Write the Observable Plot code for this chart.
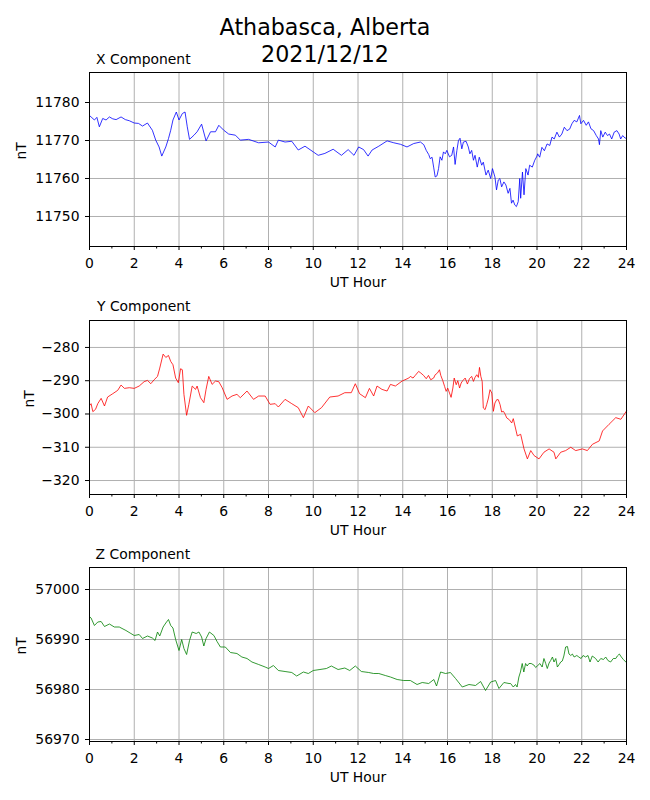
<!DOCTYPE html>
<html><head><meta charset="utf-8">
<script src="https://cdn.jsdelivr.net/npm/d3@7"></script>
<script src="https://cdn.jsdelivr.net/npm/@observablehq/plot@0.6"></script>
<style>
body{margin:0;background:#fff;}
#fig{position:relative;width:650px;height:800px;font-family:"DejaVu Sans";background:#fff;overflow:hidden;}
#title{position:absolute;top:14px;left:0;width:650px;text-align:center;font-size:22.2px;line-height:26.7px;color:#000;}
.panel{position:absolute;left:0;}
</style></head><body>
<div id="fig"><div id="title">Athabasca, Alberta<br>2021/12/12</div></div>
<script>
// [UT hour, nT] pairs
const xSeries = [[0.00,11776.6],[0.07,11776.2],[0.22,11775.4],[0.33,11776.1],[0.44,11773.6],[0.59,11775.8],[0.74,11775.4],[0.89,11776.2],[1.04,11775.7],[1.19,11775.5],[1.41,11776.2],[1.60,11775.5],[1.78,11775.2],[2.00,11774.6],[2.19,11774.5],[2.37,11773.8],[2.59,11774.6],[2.81,11772.7],[2.96,11770.1],[3.11,11768.3],[3.23,11765.9],[3.41,11768.3],[3.53,11770.5],[3.63,11772.7],[3.73,11775.4],[3.88,11777.5],[4.00,11775.4],[4.15,11777.1],[4.27,11777.5],[4.37,11773.6],[4.47,11770.3],[4.67,11771.4],[4.81,11772.3],[5.01,11774.3],[5.21,11769.9],[5.41,11772.3],[5.63,11772.3],[5.78,11774.0],[6.00,11772.7],[6.22,11771.7],[6.52,11771.4],[6.74,11770.1],[7.11,11770.3],[7.56,11769.4],[8.00,11769.6],[8.30,11768.3],[8.44,11770.1],[8.74,11769.6],[9.04,11769.8],[9.33,11767.5],[9.63,11768.5],[10.00,11767.0],[10.22,11766.1],[10.52,11766.6],[10.89,11767.7],[11.26,11766.1],[11.56,11767.6],[11.82,11766.1],[12.03,11768.3],[12.25,11767.6],[12.45,11765.9],[12.63,11767.5],[12.93,11768.5],[13.30,11769.9],[13.60,11769.4],[13.90,11769.0],[14.19,11768.3],[14.49,11769.2],
[14.79,11769.6],[14.94,11768.9],[15.05,11767.4],[15.16,11766.3],[15.23,11765.2],[15.31,11765.6],[15.38,11763.0],[15.45,11760.4],[15.53,11760.7],[15.60,11762.6],[15.67,11765.7],[15.75,11764.8],[15.82,11767.0],[15.90,11766.5],[15.97,11767.4],[16.09,11765.7],[16.19,11766.1],[16.27,11768.3],[16.34,11763.7],[16.42,11767.4],[16.49,11770.0],[16.56,11770.6],[16.64,11767.8],[16.71,11769.6],[16.83,11769.8],[16.93,11768.3],[17.00,11766.5],[17.08,11767.4],[17.16,11764.8],[17.23,11766.1],[17.33,11763.0],[17.42,11765.6],[17.53,11763.5],[17.60,11764.3],[17.72,11760.9],[17.82,11762.2],[17.93,11760.0],[18.01,11762.6],[18.12,11760.4],[18.19,11757.0],[18.27,11759.6],[18.34,11760.0],[18.42,11757.8],[18.52,11759.1],[18.61,11758.3],[18.71,11756.1],[18.79,11757.4],[18.86,11753.5],[18.93,11754.3],[19.01,11753.0],[19.08,11752.6],[19.16,11753.9],[19.23,11760.0],[19.27,11754.8],[19.35,11761.7],[19.42,11755.7],[19.50,11762.6],[19.60,11760.9],[19.67,11763.5],[19.79,11763.0],[19.90,11764.8],[20.00,11765.9],[20.03,11766.5],[20.12,11765.6],[20.22,11768.2],[20.33,11767.3],[20.45,11769.1],[20.57,11768.7],[20.67,11770.9],[20.77,11770.4],[20.89,11772.2],[21.00,11770.9],[21.11,11771.7],[21.22,11773.5],[21.34,11772.6],[21.46,11773.0],[21.56,11774.4],[21.66,11775.3],[21.78,11774.9],[21.90,11776.6],[21.96,11774.4],[22.08,11775.3],[22.20,11774.0],[22.30,11774.9],[22.41,11773.1],[22.53,11772.6],[22.65,11771.3],[22.75,11770.4],[22.79,11768.9],[22.85,11772.6],[22.94,11770.9],[23.05,11772.2],[23.15,11771.3],[23.24,11771.7],[23.34,11770.4],[23.45,11772.2],[23.57,11772.6],[23.67,11771.7],[23.74,11770.4],[23.83,11771.3],[23.94,11770.6],[24.00,11770.8]];

const ySeries = [[0.00,-297.5],[0.07,-296.9],[0.15,-299.3],[0.27,-298.6],[0.37,-296.9],[0.52,-295.3],[0.67,-297.6],[0.81,-294.9],[1.04,-293.9],[1.26,-292.9],[1.41,-291.3],[1.56,-292.3],[1.78,-292.1],[2.00,-292.3],[2.22,-291.6],[2.44,-290.3],[2.59,-289.9],[2.74,-290.9],[2.89,-289.7],[3.04,-288.7],[3.14,-286.2],[3.29,-282.0],[3.41,-283.0],[3.53,-282.4],[3.63,-284.2],[3.73,-285.2],[3.85,-289.2],[3.97,-290.6],[4.07,-286.4],[4.15,-286.7],[4.22,-294.1],[4.34,-300.4],[4.44,-297.1],[4.59,-291.6],[4.74,-292.6],[4.81,-291.6],[4.96,-295.1],[5.11,-296.6],[5.21,-292.6],[5.33,-288.7],[5.48,-291.1],[5.63,-290.1],[5.78,-290.3],[5.93,-292.1],[6.15,-295.6],[6.37,-294.6],[6.59,-294.1],[6.74,-295.1],[7.04,-293.1],[7.33,-295.6],[7.56,-294.6],[7.85,-294.6],[8.07,-297.1],[8.30,-296.9],[8.44,-297.9],[8.74,-295.6],[9.04,-296.9],[9.33,-298.1],[9.56,-301.1],[9.78,-297.6],[10.07,-299.6],[10.37,-298.1],[10.74,-294.9],[11.11,-294.6],[11.41,-293.6],[11.70,-293.6],[11.88,-290.9],[12.07,-293.9],[12.33,-295.1],[12.51,-292.3],[12.70,-294.6],[12.85,-291.6],[13.07,-292.6],[13.30,-293.1],[13.45,-291.1],[13.67,-291.6],[13.97,-290.1],[14.27,-289.2],
[14.34,-288.7],[14.46,-289.2],[14.56,-288.4],[14.71,-287.2],[14.81,-287.7],[14.93,-288.4],[15.05,-289.4],[15.15,-288.4],[15.25,-289.7],[15.38,-289.2],[15.45,-288.2],[15.55,-287.7],[15.64,-286.7],[15.70,-288.4],[15.79,-290.0],[15.87,-291.7],[15.94,-293.2],[16.01,-292.2],[16.09,-293.7],[16.16,-295.0],[16.24,-292.2],[16.30,-289.2],[16.39,-291.2],[16.46,-290.0],[16.54,-292.2],[16.61,-290.7],[16.68,-290.0],[16.79,-289.2],[16.89,-291.0],[16.98,-289.4],[17.08,-288.7],[17.16,-290.2],[17.23,-289.0],[17.31,-288.2],[17.38,-289.0],[17.43,-286.0],[17.49,-288.7],[17.55,-290.2],[17.60,-298.2],[17.68,-298.7],[17.75,-297.2],[17.83,-295.2],[17.90,-292.7],[17.98,-293.7],[18.05,-299.2],[18.12,-296.7],[18.20,-295.7],[18.27,-295.7],[18.35,-297.2],[18.42,-299.4],[18.50,-299.2],[18.57,-300.0],[18.65,-301.2],[18.76,-301.7],[18.87,-302.7],[18.94,-301.4],[19.12,-306.6],[19.27,-306.1],[19.42,-310.5],[19.57,-313.5],[19.72,-311.0],[19.87,-312.5],[20.09,-313.5],[20.31,-311.5],[20.54,-310.5],[20.76,-311.5],[20.84,-313.5],[21.06,-311.5],[21.28,-311.0],[21.51,-310.0],[21.73,-311.0],[22.03,-310.5],[22.25,-311.0],[22.48,-309.1],[22.78,-308.1],[22.93,-305.1],[23.22,-303.1],[23.52,-301.1],[23.75,-301.6],[24.00,-299.1]];

const zSeries = [[0.00,56994.6],[0.07,56994.3],[0.22,56992.8],[0.37,56993.5],[0.52,56993.6],[0.67,56992.6],[0.89,56993.1],[1.11,56992.5],[1.33,56992.5],[1.63,56991.8],[1.85,56991.2],[2.00,56990.8],[2.22,56991.0],[2.37,56990.2],[2.59,56990.7],[2.81,56990.3],[2.93,56989.8],[3.04,56991.5],[3.14,56990.7],[3.29,56992.5],[3.41,56993.3],[3.53,56994.0],[3.63,56992.8],[3.73,56992.3],[3.85,56990.0],[4.00,56987.8],[4.12,56990.0],[4.22,56988.2],[4.34,56987.0],[4.47,56989.8],[4.59,56991.5],[4.77,56991.2],[4.89,56991.5],[5.01,56990.5],[5.11,56988.7],[5.21,56990.2],[5.36,56991.5],[5.56,56990.8],[5.70,56989.6],[5.85,56988.5],[6.07,56988.5],[6.30,56987.4],[6.59,56987.2],[6.81,56986.5],[7.04,56986.2],[7.26,56985.5],[7.56,56985.0],[7.85,56984.5],[8.00,56984.2],[8.22,56984.8],[8.44,56983.8],[8.74,56983.6],[9.04,56983.4],[9.26,56982.7],[9.56,56983.5],[9.78,56983.2],[10.00,56983.8],[10.30,56984.0],[10.59,56984.2],[10.81,56984.7],[11.11,56984.0],[11.41,56984.3],[11.63,56983.8],[11.88,56984.7],[12.15,56983.6],[12.48,56983.4],[12.70,56983.2],[12.93,56983.2],[13.22,56982.8],[13.45,56982.5],[13.75,56982.0],[14.04,56981.8],[14.34,56981.8],[14.64,56981.0],[14.87,56981.4],[15.16,56981.2],[15.39,56982.0],[15.51,56980.7],[15.69,56983.5],[15.91,56983.2],[16.13,56983.4],[16.36,56982.2],[16.66,56980.5],[16.96,56981.0],[17.25,56980.8],[17.48,56981.6],[17.70,56979.8],[17.93,56981.5],[18.15,56981.8],[18.30,56980.2],[18.52,56981.4],[18.75,56981.2],
[18.82,56981.2],[18.94,56980.5],[19.04,56981.0],[19.11,56980.5],[19.19,56982.5],[19.26,56983.5],[19.34,56985.2],[19.41,56983.5],[19.49,56985.2],[19.56,56984.7],[19.64,56985.2],[19.74,56985.2],[19.86,56984.9],[19.94,56984.4],[20.01,56984.7],[20.13,56985.2],[20.23,56984.5],[20.31,56986.2],[20.39,56985.2],[20.46,56984.2],[20.54,56985.3],[20.61,56985.8],[20.69,56986.5],[20.76,56985.5],[20.84,56986.2],[20.91,56984.5],[20.99,56985.0],[21.06,56985.5],[21.13,56985.7],[21.20,56986.7],[21.28,56988.5],[21.36,56988.6],[21.43,56987.1],[21.51,56986.8],[21.58,56987.1],[21.66,56986.5],[21.78,56986.8],[21.87,56986.5],[21.97,56986.2],[22.06,56986.8],[22.17,56986.5],[22.28,56986.8],[22.37,56985.5],[22.47,56986.7],[22.62,56986.2],[22.73,56985.5],[22.85,56986.2],[22.97,56986.0],[23.07,56986.5],[23.17,56985.8],[23.29,56985.5],[23.41,56986.2],[23.52,56986.2],[23.59,56986.7],[23.68,56987.1],[23.77,56986.5],[23.86,56986.0],[23.97,56985.5],[24.00,56985.6]];

const hourTicks = [0,2,4,6,8,10,12,14,16,18,20,22,24];
const hourMinorTicks = [1,3,5,7,9,11,13,15,17,19,21,23];
const xTicks = [11750,11760,11770,11780];
const yTicks = [-320,-310,-300,-290,-280];
const zTicks = [56970,56980,56990,57000];
const panelTitles = ["X Component","Y Component","Z Component"];
const seriesColors = ["blue","red","green"];

const panels = [
  {title:panelTitles[0], series:xSeries, color:seriesColors[0], domain:[11742.1,11787.9], ticks:xTicks, top:40, height:252, labelDx:-68, titleDx:6.5, titleDy:-18},
  {title:panelTitles[1], series:ySeries, color:seriesColors[1], domain:[-324.2,-271.9], ticks:yTicks, top:288, height:252, labelDx:-60, titleDx:7.5, titleDy:-19},
  {title:panelTitles[2], series:zSeries, color:seriesColors[2], domain:[56969.6,57004.4], ticks:zTicks, top:535, height:265, labelDx:-68, titleDx:6, titleDy:-18}
];

const fmt = d => d < 0 ? "\u2212" + Math.abs(d) : String(d);
const fig = document.getElementById("fig");

for (const p of panels) {
  const data = p.series.map(([h, v]) => ({h, v}));
  const chart = Plot.plot({
    width: 650,
    height: p.height,
    marginLeft: 89,
    marginRight: 24,
    marginTop: 32,
    marginBottom: p.height - 32 - 174,
    x: {domain: [0, 24]},
    y: {domain: p.domain},
    style: {fontFamily: "DejaVu Sans", fontSize: "13.9px", background: "transparent", color: "black", overflow: "visible"},
    marks: [
      Plot.gridX(hourTicks, {stroke: "#b0b0b0", strokeOpacity: 1, strokeWidth: 1}),
      Plot.gridY(p.ticks, {stroke: "#b0b0b0", strokeOpacity: 1, strokeWidth: 1}),
      Plot.line(data, {x: "h", y: "v", stroke: p.color, strokeWidth: 0.8}),
      Plot.frame({stroke: "black", strokeWidth: 1}),
      Plot.axisX(hourTicks, {tickSize: 4, tickPadding: 7.5, label: null, tickFormat: d => String(d)}),
      Plot.axisX(hourMinorTicks, {tickSize: 2.5, label: null, tickFormat: () => ""}),
      Plot.axisY(p.ticks, {tickSize: 4, tickPadding: 6, label: null, tickFormat: fmt}),
      Plot.text([p.title], {text: d => d, frameAnchor: "top-left", dx: p.titleDx, dy: p.titleDy, textAnchor: "start", fill: "black"}),
      Plot.text(["UT Hour"], {text: d => d, frameAnchor: "bottom", dy: 40, fill: "black"}),
      Plot.text(["nT"], {text: d => d, frameAnchor: "left", dx: p.labelDx, rotate: -90, fill: "black"})
    ]
  });
  chart.classList.add("panel");
  chart.style.top = p.top + "px";
  fig.appendChild(chart);
}
</script>
</body></html>
